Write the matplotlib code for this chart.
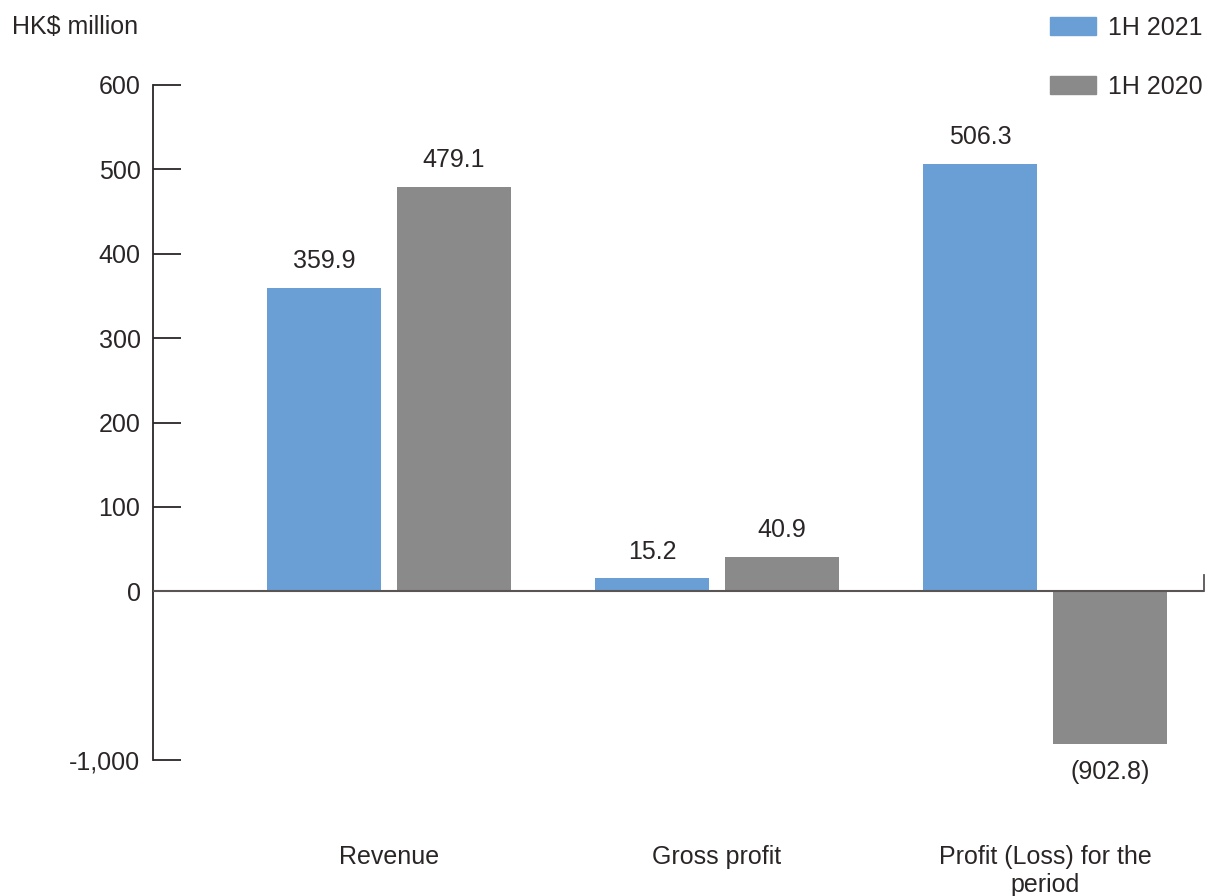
import matplotlib
matplotlib.use("Agg")
import matplotlib.pyplot as plt
import numpy as np
from matplotlib.patches import Patch

categories = ["Revenue", "Gross profit", "Profit (Loss) for the\nperiod"]
series_names = ["1H 2021", "1H 2020"]
values_2021 = [359.9, 15.2, 506.3]
values_2020 = [479.1, 40.9, -902.8]
yticks = [-1000, 0, 100, 200, 300, 400, 500, 600]

c_blue = "#6a9fd6"
c_gray = "#8a8a8a"
c_text = "#2b2626"
FS = 18

plt.rcParams["font.family"] = ["Liberation Sans", "DejaVu Sans"]
plt.rcParams["font.size"] = FS


def fwd(y):
    y = np.asarray(y, dtype=float)
    return np.where(y >= 0, y, y * 0.2)


def inv(y):
    y = np.asarray(y, dtype=float)
    return np.where(y >= 0, y, y / 0.2)


fig = plt.figure(figsize=(12.08, 8.96), dpi=100)
ax = fig.add_axes([153 / 1208, 1 - 760 / 896, (1204 - 153) / 1208, (760 - 85) / 896])
ax.set_yscale("function", functions=(fwd, inv))
ax.set_ylim(-1000, 600)

x = np.arange(len(categories))
w = 0.3476
off = 0.198
b1 = ax.bar(x - off, values_2021, w, color=c_blue, zorder=2)
b2 = ax.bar(x + off, values_2020, w, color=c_gray, zorder=2)
ax.set_xlim(-0.7195, 2.485)


def fmt(v):
    return f"({abs(v):.1f})" if v < 0 else f"{v:.1f}"


for bars, vals in ((b1, values_2021), (b2, values_2020)):
    for rect, v in zip(bars, vals):
        cx = rect.get_x() + rect.get_width() / 2
        if v >= 0:
            ax.annotate(fmt(v), (cx, v), xytext=(0, 10.5), textcoords="offset points",
                        ha="center", va="bottom", color=c_text, fontsize=FS)
        else:
            ax.annotate(fmt(v), (cx, v), xytext=(0, -12), textcoords="offset points",
                        ha="center", va="top", color=c_text, fontsize=FS)

# zero line
ax.axhline(0, color="#5a5555", lw=1.5, zorder=3)

for s in ["top", "bottom"]:
    ax.spines[s].set_visible(False)
ax.spines["left"].set_color(c_text)
ax.spines["left"].set_linewidth(1.3)
ax.spines["right"].set_color("#5a5555")
ax.spines["right"].set_linewidth(1.3)
ax.spines["right"].set_bounds(0, 19)

ax.set_yticks(yticks)
ax.set_yticklabels([f"{t:,}" for t in yticks])
ax.tick_params(axis="y", direction="in", length=20, width=1.3, color=c_text,
               pad=9, labelcolor=c_text, labelsize=FS)
ax.set_xticks(x)
ax.set_xticklabels(categories, linespacing=1.25)
ax.tick_params(axis="x", length=0, pad=61, labelcolor=c_text, labelsize=FS)

fig.text(12 / 1208, 1 - 27 / 896, "HK$ million", ha="left", va="center",
         color=c_text, fontsize=FS)

handles = [Patch(color=c_blue), Patch(color=c_gray)]
leg = fig.legend(handles, series_names, loc="upper right",
                 bbox_to_anchor=(1.0, 1 - 11 / 896), frameon=False,
                 handlelength=1.84, handleheight=0.72, handletextpad=0.48,
                 labelspacing=1.4, fontsize=FS, borderaxespad=0, borderpad=0.2)
for t in leg.get_texts():
    t.set_color(c_text)

fig.savefig("out.png", dpi=100)
